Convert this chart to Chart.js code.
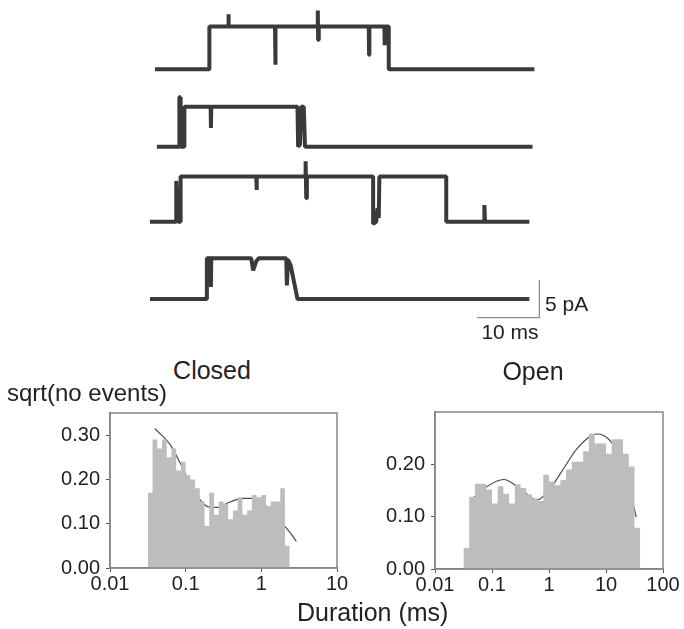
<!DOCTYPE html>
<html>
<head>
<meta charset="utf-8">
<title>Dwell-time histograms</title>
<script src="https://cdn.jsdelivr.net/npm/chart.js@4.4.1/dist/chart.umd.min.js"></script>
<style>
    html, body { margin: 0; padding: 0; background: #fff; }
    #fig { position: relative; width: 684px; height: 629px; overflow: hidden;
           font-family: 'Liberation Sans', Arial, sans-serif; color: #222; }
    #fig canvas { position: absolute; }
    .lbl { position: absolute; white-space: nowrap; line-height: 1; }
    .mid { transform: translateX(-50%); }
</style>
</head>
<body>
<div id="fig">
    <canvas id="traces" width="684" height="345" style="left:0;top:0"></canvas>
    <canvas id="closed" width="310" height="205" style="left:40px;top:395px"></canvas>
    <canvas id="open" width="319" height="207" style="left:365px;top:394px"></canvas>

    <div class="lbl" style="left:545px;top:293px;font-size:21px">5 pA</div>
    <div class="lbl mid" style="left:510px;top:321px;font-size:21px">10 ms</div>
    <div class="lbl mid" style="left:212px;top:358px;font-size:25px">Closed</div>
    <div class="lbl mid" style="left:533px;top:359px;font-size:25px">Open</div>
    <div class="lbl" style="left:7px;top:381px;font-size:24px">sqrt(no events)</div>
    <div class="lbl" style="left:297px;top:600px;font-size:25px">Duration (ms)</div>
</div>

<script>
// ---- Traces: [time (ms), current (pA)] ----
const trace1 = [[0.8,0],[9.5,0],[9.5,5.7],[12.5,5.7],[12.55,7.3],[12.6,5.7],[20.0,5.7],[20.05,0.6],[20.1,5.7],
    [26.8,5.7],[26.85,7.8],[26.9,3.9],[27.0,5.7],[35.0,5.7],[35.05,1.9],[35.1,5.7],[37.5,5.7],[37.55,3.2],
    [37.6,5.7],[38.2,5.7],[38.2,0],[61.5,0]];
const trace2 = [[1.1,0],[4.7,0],[4.7,6.6],[4.8,6.6],[4.9,0],[5.5,0],[5.5,5.3],[9.7,5.3],[9.75,2.5],[9.8,5.3],
    [23.6,5.3],[23.7,0],[24.0,0.3],[24.2,5.3],[24.6,5.3],[24.8,0],[61.2,0]];
const trace3 = [[0,0],[4.2,0],[4.2,5.4],[4.5,0],[4.9,0],[4.9,6.0],[17.0,6.0],[17.05,4.2],[17.1,6.0],[24.9,6.0],
    [24.9,8.0],[25.0,3.1],[25.1,6.0],[35.7,6.0],[35.7,-0.3],[36.2,0],[36.4,1.8],[36.6,0.5],[36.7,6.0],
    [47.4,6.0],[47.4,0],[53.5,0],[53.5,2.2],[53.6,0],[60.7,0]];
const trace4 = [[0,0],[9.1,0],[9.1,5.4],[9.7,5.4],[9.75,1.6],[9.8,5.4],[16.2,5.4],[16.5,3.8],[17.0,5.0],[17.4,5.4],
    [21.8,5.4],[21.9,1.8],[22.1,5.2],[22.5,4.5],[23.6,0],[60.7,0]];
const scaleBarMs = 10;
const scaleBarPA = 5;

// ---- Histograms (sqrt of event count per log bin) ----
const closedBinStart = 0.0316;      // ms, lower edge of first bin
const closedBinsPerDecade = 16;
const closedHeights = [0.17, 0.29, 0.27, 0.29, 0.25, 0.27, 0.22, 0.24, 0.21, 0.20, 0.18, 0.15, 0.095, 0.17, 0.12,
    0.15, 0.145, 0.11, 0.13, 0.16, 0.12, 0.13, 0.165, 0.16, 0.165, 0.14, 0.15, 0.15, 0.18, 0.05];
const closedFit = [[0.039,0.315],[0.062,0.279],[0.084,0.238],[0.114,0.19],[0.155,0.154],[0.2,0.138],[0.28,0.137],
    [0.35,0.146],[0.58,0.157],[0.78,0.157],[1.17,0.139],[1.76,0.106],[2.4,0.08],[2.9,0.06]];
const closedTicks = [0.01, 0.1, 1, 10];

const openBinStart = 0.0316;
const openBinsPerDecade = 10;
const openHeights = [0.04, 0.138, 0.163, 0.163, 0.152, 0.125, 0.158, 0.144, 0.125, 0.162, 0.155, 0.143, 0.135,
    0.13, 0.18, 0.167, 0.16, 0.17, 0.19, 0.205, 0.205, 0.225, 0.259, 0.24, 0.24, 0.22, 0.248, 0.248, 0.22,
    0.196, 0.079];
const openFit = [[0.044,0.133],[0.08,0.157],[0.16,0.171],[0.3,0.155],[0.62,0.132],[1.07,0.155],[1.83,0.193],
    [3.16,0.231],[7.1,0.258],[11.4,0.247],[18,0.212],[25,0.16],[34,0.099]];
const openTicks = [0.01, 0.1, 1, 10, 100];

// ---- layout constants ----
const PX_PER_PA = 7.54;
const TRACE_TOP_PA = 9.2;
const TRACE_OFFSETS = [0, -10.26, -20.2, -30.46];   // vertical stacking of the sweeps
const SCALE_BAR_AT = { x: 62.3, y: -32.93 };        // corner of the L-shaped scale bar

Chart.defaults.font.family = "'Liberation Sans', Arial, sans-serif";
Chart.defaults.color = '#222';
Chart.defaults.animation = false;
Chart.defaults.plugins.legend.display = false;
Chart.defaults.plugins.tooltip.enabled = false;

const AXIS_GREY = '#858585';

// Desenha a moldura em volta da área do gráfico
const framePlugin = {
    id: 'frame',
    afterDraw(chart) {
        const a = chart.chartArea;
        const ctx = chart.ctx;
        ctx.save();
        ctx.strokeStyle = AXIS_GREY;
        ctx.lineWidth = 1.5;
        ctx.strokeRect(a.left, a.top, a.right - a.left, a.bottom - a.top);
        ctx.restore();
    }
};

/**
 * Pontos de uma linha em degraus para o histograma
 */
function stepPoints(binStart, perDecade, heights) {
    const edge = i => binStart * Math.pow(10, i / perDecade);
    const pts = [{ x: edge(0), y: 0 }];
    heights.forEach((h, i) => pts.push({ x: edge(i), y: h }));
    const n = heights.length;
    pts.push({ x: edge(n), y: heights[n - 1] });
    pts.push({ x: edge(n), y: 0 });
    return pts;
}

function criarHistograma(canvasId, opts) {
    const ctx = document.getElementById(canvasId);
    return new Chart(ctx, {
        type: 'line',
        data: {
            datasets: [
                {
                    data: stepPoints(opts.binStart, opts.perDecade, opts.heights),
                    stepped: true,
                    borderWidth: 0,
                    borderColor: 'rgba(0,0,0,0)',
                    backgroundColor: '#bdbdbd',
                    fill: 'origin',
                    pointRadius: 0
                },
                {
                    data: opts.fit.map(p => ({ x: p[0], y: p[1] })),
                    borderColor: '#4a4a4a',
                    borderWidth: 1.2,
                    cubicInterpolationMode: 'monotone',
                    fill: false,
                    pointRadius: 0
                }
            ]
        },
        options: {
            responsive: false,
            devicePixelRatio: 1,
            layout: { padding: { top: 15, right: opts.padRight, left: 0, bottom: 0 } },
            scales: {
                x: {
                    type: 'logarithmic',
                    min: opts.ticks[0],
                    max: opts.ticks[opts.ticks.length - 1],
                    afterBuildTicks: s => { s.ticks = opts.ticks.map(v => ({ value: v })); },
                    afterFit: s => { s.height = 32; },
                    ticks: {
                        autoSkip: false,
                        maxRotation: 0,
                        padding: 0,
                        font: { size: 20 },
                        callback: v => String(v)
                    },
                    grid: { drawOnChartArea: false, drawTicks: true, tickLength: 4, tickColor: '#555' },
                    border: { color: AXIS_GREY, width: 1.5 }
                },
                y: {
                    min: 0,
                    max: opts.yMax,
                    afterBuildTicks: s => { s.ticks = s.ticks.filter(t => t.value <= opts.yLabelMax + 1e-9); },
                    afterFit: s => { s.width = 70; },
                    ticks: {
                        stepSize: 0.1,
                        includeBounds: false,
                        padding: 6,
                        font: { size: 20 },
                        callback: v => Number(v).toFixed(2)
                    },
                    grid: { drawOnChartArea: false, drawTicks: true, tickLength: 4, tickColor: '#555' },
                    border: { color: AXIS_GREY, width: 1.5 }
                }
            }
        },
        plugins: [framePlugin]
    });
}

// ---- current traces ----
const traces = [trace1, trace2, trace3, trace4];
const traceSets = traces.map((tr, k) => ({
    data: tr.map(p => ({ x: p[0], y: p[1] + TRACE_OFFSETS[k] })),
    borderColor: '#3a3a3a',
    borderWidth: 4,
    borderJoinStyle: 'bevel',
    pointRadius: 0,
    fill: false
}));
traceSets.push({
    data: [
        { x: SCALE_BAR_AT.x - scaleBarMs, y: SCALE_BAR_AT.y },
        { x: SCALE_BAR_AT.x, y: SCALE_BAR_AT.y },
        { x: SCALE_BAR_AT.x, y: SCALE_BAR_AT.y + scaleBarPA }
    ],
    borderColor: '#8a8a8a',
    borderWidth: 1.2,
    pointRadius: 0,
    fill: false
});

new Chart(document.getElementById('traces'), {
    type: 'line',
    data: { datasets: traceSets },
    options: {
        responsive: false,
        devicePixelRatio: 1,
        layout: { padding: { left: 150, right: 34, top: 0, bottom: 0 } },
        elements: { line: { tension: 0 } },
        scales: {
            x: { type: 'linear', display: false, min: 0, max: 80 },
            y: { type: 'linear', display: false, max: TRACE_TOP_PA, min: TRACE_TOP_PA - 345 / PX_PER_PA }
        }
    }
});

criarHistograma('closed', {
    binStart: closedBinStart, perDecade: closedBinsPerDecade, heights: closedHeights,
    fit: closedFit, ticks: closedTicks, yMax: 0.35, yLabelMax: 0.3, padRight: 13
});
criarHistograma('open', {
    binStart: openBinStart, perDecade: openBinsPerDecade, heights: openHeights,
    fit: openFit, ticks: openTicks, yMax: 0.30, yLabelMax: 0.2, padRight: 21
});
</script>
</body>
</html>
